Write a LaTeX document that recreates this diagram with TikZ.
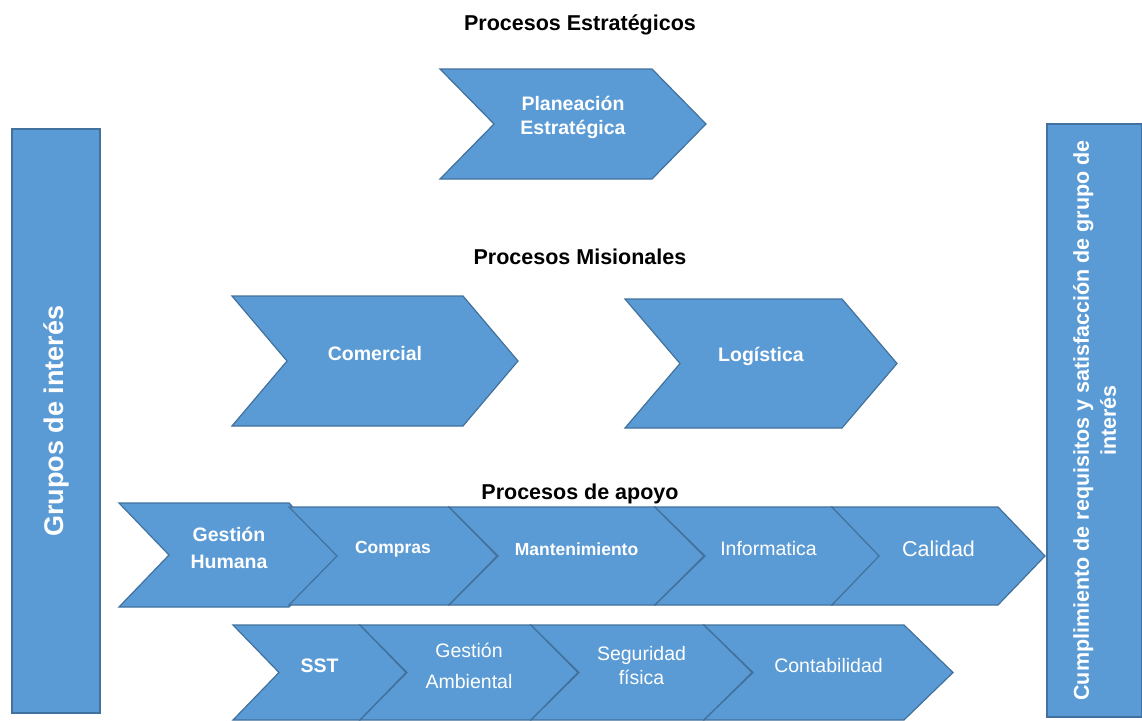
\documentclass[tikz,border=0pt]{standalone}
\usepackage{fontspec}
\setmainfont{Liberation Sans}
\definecolor{procBlue}{HTML}{5B9BD5}
\definecolor{procEdge}{HTML}{41719C}

% chevron: name, left x, corner x, top y, bottom y, depth, text options, text
\newcommand{\procChevron}[8]{%
  \draw[procShape] (#2,#4) -- (#3,#4) -- ({#3+#6},{(#4+#5)/2}) -- (#3,#5) -- (#2,#5) -- ({#2+#6},{(#4+#5)/2}) -- cycle;
  \node[procText,#7] (#1) at ({(#2+#3+#6)/2},{(#4+#5)/2-7}) {#8};}

\begin{document}
\begin{tikzpicture}[x=1pt,y=-1pt,
    procShape/.style={fill=procBlue, draw=procEdge, line width=1.2pt, line join=miter},
    procText/.style={text=white, align=center, inner sep=0, font=\bfseries\fontsize{19.5}{24}\selectfont},
    procPlain/.style={font=\fontsize{19.5}{24}\selectfont},
    groupTitle/.style={font=\bfseries\fontsize{21.5}{24}\selectfont, inner sep=0},
    barB/.style={fill=procBlue, draw=procEdge, line width=1.2pt, rotate=90, text=white, align=center}]

      \useasboundingbox (0,0) rectangle (1142,720);

      % side bars
      \node[barB, minimum width=584, minimum height=88, font=\bfseries\fontsize{27}{30}\selectfont] (grupos) at (56,421) {Grupos de interés};
      \node[barB, minimum width=593, minimum height=95, font=\bfseries\fontsize{21.5}{27}\selectfont] (cumplimiento) at (1094.5,420.5) {Cumplimiento de requisitos y satisfacción de grupo de\\interés};

      % estrategicos
      \procChevron{planeacion}{440}{652}{69}{179}{54}{}{Planeación\\Estratégica}

      % misionales
      \procChevron{comercial}{232}{463}{296}{426}{55}{}{Comercial}
      \procChevron{logistica}{625}{842}{299}{428}{55}{}{Logística}

      % apoyo, primera fila
      \procChevron{humana}{119}{289}{503}{607}{50}{font=\bfseries\fontsize{19.5}{27}\selectfont}{Gestión\\Humana}
      \procChevron{compras}{289}{449}{507}{605}{48}{font=\bfseries\fontsize{17.5}{20}\selectfont}{Compras}
      \procChevron{mantenimiento}{449}{655}{507}{605}{49}{font=\bfseries\fontsize{17.5}{20}\selectfont}{Mantenimiento}
      \procChevron{informatica}{655}{832}{507}{605}{50}{procPlain}{Informatica}
      \procChevron{calidad}{832}{998}{507}{605}{47}{font=\fontsize{21.5}{24}\selectfont}{Calidad}

      % apoyo, segunda fila
      \procChevron{sst}{233}{360}{625}{720}{46}{}{SST}
      \procChevron{ambiental}{360}{531}{625}{720}{47}{font=\fontsize{19.5}{31}\selectfont}{Gestión\\Ambiental}
      \procChevron{seguridad}{531}{704}{625}{720}{48}{procPlain}{Seguridad\\física}
      \procChevron{contabilidad}{704}{904}{625}{720}{49}{procPlain}{Contabilidad}

      % titulos
      \node[groupTitle] (estrategicos) at (580,25) {Procesos Estratégicos};
      \node[groupTitle] (misionales) at (580,257) {Procesos Misionales};
      \node[groupTitle] (apoyo) at (580,494) {Procesos de apoyo};
    \end{tikzpicture}
\end{document}
